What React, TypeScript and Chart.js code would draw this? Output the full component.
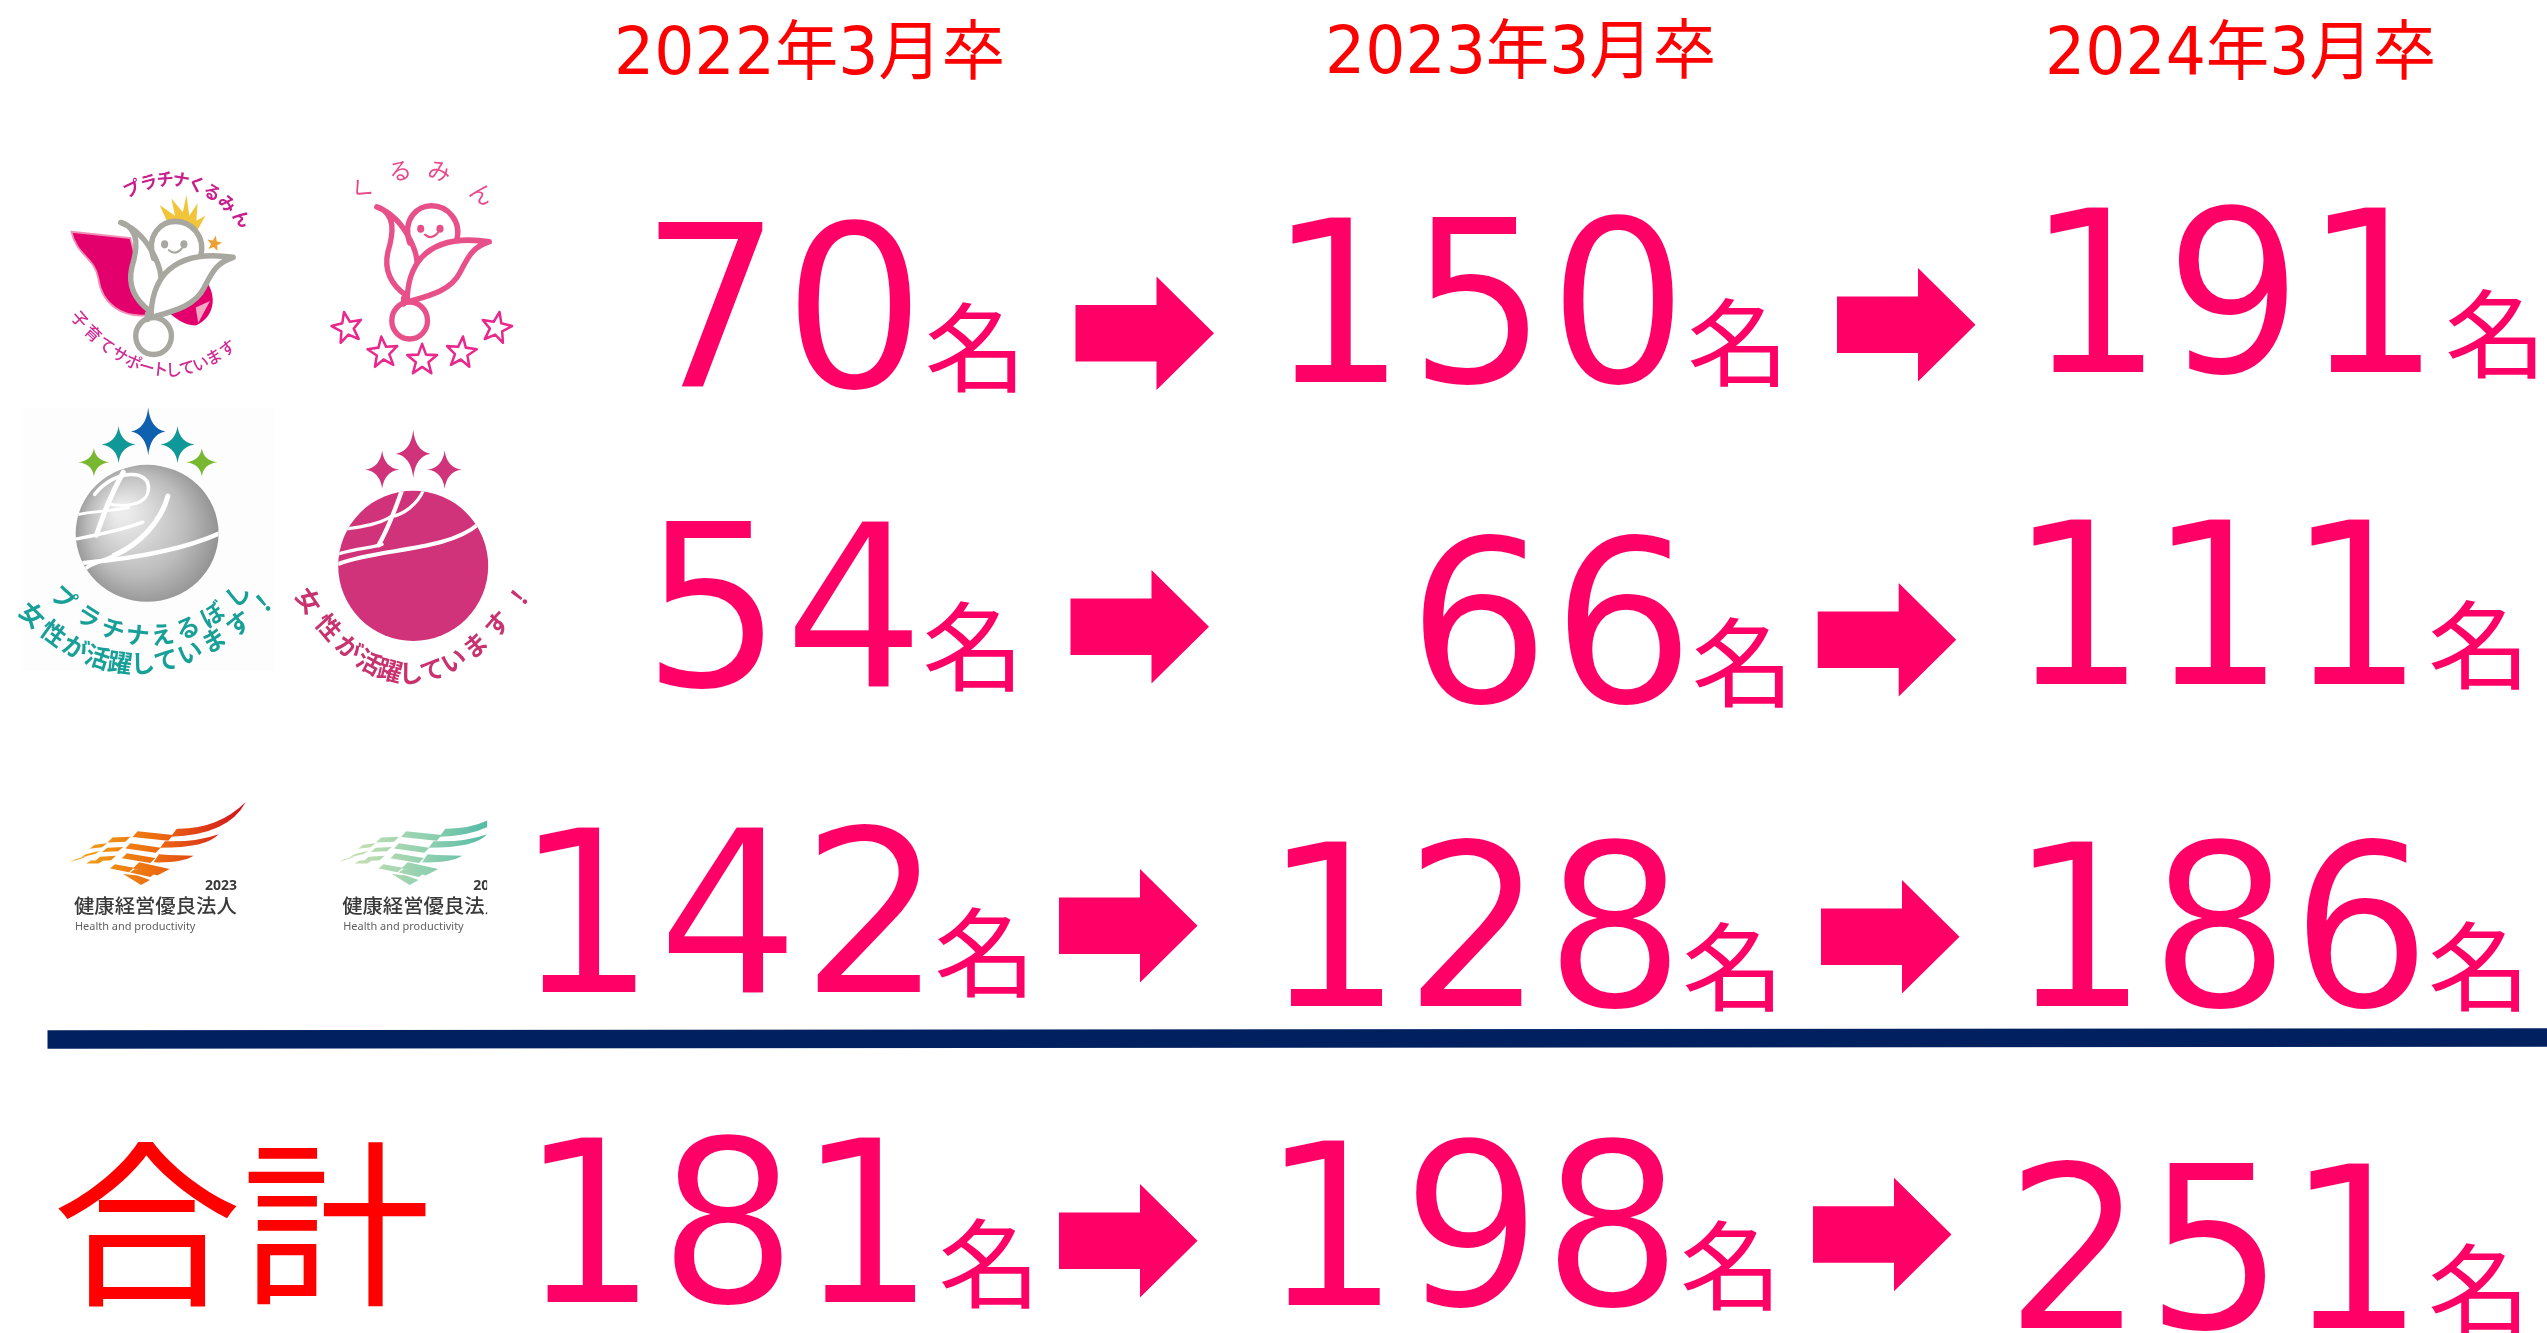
import React, { useEffect, useRef } from "react";
import { Chart, registerables } from "chart.js";

Chart.register(...registerables);

// ---------- values ----------
const years = ["2022年3月卒", "2023年3月卒", "2024年3月卒"];
const kurumin = [70, 150, 191];
const eruboshi = [54, 66, 111];
const kenko = [142, 128, 186];
const total = [181, 198, 251];
const rowNames = ["くるみん", "えるぼし", "健康経営優良法人", "合計"];
const unit = "名";
const totalLabel = "合計";

// ---------- layout, in the units of the two hidden axes (one unit = one reference pixel) ----------
const W = 2547;
const H = 1333;
// [number left, number right, baseline, unit left, unit right, unit top, unit bottom]
const cellLayout = [
  [[657.7, 910.2, 386.6, 928, 1015.9, 301.9, 392.5], [1292.4, 1672.9, 381.8, 1690.4, 1778.6, 297.4, 387], [2050.4, 2421.6, 372.2, 2448.1, 2535.9, 288.1, 378]],
  [[658.8, 912.6, 685.9, 925.6, 1013.5, 600.8, 691.4], [1422.2, 1680.5, 702, 1694.9, 1783.4, 617.3, 707.6], [2033.5, 2405.4, 683.5, 2431.2, 2519.7, 599, 688.9]],
  [[539.6, 920.5, 991.7, 937.4, 1025.2, 907, 997.5], [1287.9, 1669.8, 1005.5, 1685.6, 1773.8, 921.1, 1011], [2033.5, 2417.1, 1005.5, 2431.2, 2519.7, 921.1, 1011.3]],
  [[544.4, 916, 1302.3, 941.8, 1030, 1217.6, 1307.8], [1285.5, 1667.4, 1305, 1683.2, 1771.4, 1220, 1310.6], [2020.8, 2405.4, 1327.8, 2431.2, 2519.7, 1243.4, 1333.4]],
];
// [left, top] of each arrow
const arrowLayout = [
  [[1075.5, 276.5], [1837, 268]],
  [[1070.5, 570], [1817.7, 583]],
  [[1059, 869], [1821, 880]],
  [[1059, 1184], [1813, 1177.7]],
];
const headerLayout = [
  [618, 1002, 74],
  [1329, 1713, 73],
  [2049, 2433, 74],
];
const separator = [
  { x: 47.5, y: 1039.5 },
  { x: 2547, y: 1037.5 },
];
const PINK = "#ff0066";
const RED = "#ff0000";
const NAVY = "#002060";
const rows = [kurumin, eruboshi, kenko, total];
const ERODE = 2;

type Ctx = CanvasRenderingContext2D;
type Pt = [number, number];

function fitText(ctx: Ctx, text: string, font: string, color: string, l: number, r: number, baseline: number, top?: number, erode = 0) {
  ctx.save();
  ctx.font = font;
  ctx.fillStyle = color;
  ctx.textAlign = "left";
  ctx.textBaseline = "alphabetic";
  const m = ctx.measureText(text);
  const ink = m.actualBoundingBoxLeft + m.actualBoundingBoxRight;
  const sx = (r - l) / ink;
  let sy = 1;
  if (top !== undefined) sy = (baseline - top) / (m.actualBoundingBoxAscent + m.actualBoundingBoxDescent);
  const by = top !== undefined ? baseline - m.actualBoundingBoxDescent * sy : baseline;
  ctx.translate(l + m.actualBoundingBoxLeft * sx, by);
  ctx.scale(sx, sy);
  ctx.fillText(text, 0, 0);
  if (erode > 0) {
    ctx.strokeStyle = "#ffffff";
    ctx.lineJoin = "miter";
    ctx.lineWidth = erode;
    ctx.strokeText(text, 0, 0);
  }
  ctx.restore();
}

function pathText(ctx: Ctx, text: string, a: Pt, c: Pt, b: Pt, font: string, color: string) {
  const chars = Array.from(text);
  ctx.save();
  ctx.font = font;
  ctx.fillStyle = color;
  ctx.textAlign = "center";
  ctx.textBaseline = "middle";
  chars.forEach((ch, i) => {
    const t = (i + 0.5) / chars.length;
    const u = 1 - t;
    const x = u * u * a[0] + 2 * u * t * c[0] + t * t * b[0];
    const y = u * u * a[1] + 2 * u * t * c[1] + t * t * b[1];
    const dx = 2 * u * (c[0] - a[0]) + 2 * t * (b[0] - c[0]);
    const dy = 2 * u * (c[1] - a[1]) + 2 * t * (b[1] - c[1]);
    ctx.save();
    ctx.translate(x, y);
    ctx.rotate(Math.atan2(dy, dx));
    ctx.fillText(ch, 0, 0);
    ctx.restore();
  });
  ctx.restore();
}

function sparkle(ctx: Ctx, x: number, y: number, rx: number, ry: number, color: string) {
  const k = 0.12;
  ctx.fillStyle = color;
  ctx.beginPath();
  ctx.moveTo(x, y - ry);
  ctx.quadraticCurveTo(x + rx * k, y - ry * k, x + rx, y);
  ctx.quadraticCurveTo(x + rx * k, y + ry * k, x, y + ry);
  ctx.quadraticCurveTo(x - rx * k, y + ry * k, x - rx, y);
  ctx.quadraticCurveTo(x - rx * k, y - ry * k, x, y - ry);
  ctx.fill();
}

function star(ctx: Ctx, x: number, y: number, r: number, rot: number) {
  ctx.beginPath();
  for (let i = 0; i < 10; i++) {
    const rad = i % 2 ? r * 0.42 : r;
    const a = rot + (i * Math.PI) / 5 - Math.PI / 2;
    const px = x + rad * Math.cos(a);
    const py = y + rad * Math.sin(a);
    if (i) ctx.lineTo(px, py);
    else ctx.moveTo(px, py);
  }
  ctx.closePath();
}

function curve(ctx: Ctx, pts: number[], width: number, color: string) {
  ctx.strokeStyle = color;
  ctx.lineWidth = width;
  ctx.lineCap = "round";
  ctx.beginPath();
  ctx.moveTo(pts[0], pts[1]);
  ctx.bezierCurveTo(pts[2], pts[3], pts[4], pts[5], pts[6], pts[7]);
  ctx.stroke();
}

// tulip figure, drawn in the coordinates of the second logo
function tulip(ctx: Ctx, color: string, fillWhite: boolean, width: number) {
  ctx.lineJoin = "round";
  ctx.lineCap = "round";
  const left = new Path2D("M1055 208 C1112 225 1100 285 1086 330 C1072 390 1105 425 1138 448 L1165 400 C1175 350 1160 320 1150 300 C1130 260 1100 225 1055 208 Z");
  const head = new Path2D("M1147 305 C1125 240 1170 205 1208 205 C1252 205 1295 245 1278 302");
  const right = new Path2D("M1370 302 C1300 292 1225 298 1180 345 C1150 378 1140 420 1140 465 C1200 448 1262 435 1288 385 C1310 345 1320 318 1370 302 Z");
  if (fillWhite) {
    ctx.fillStyle = "#ffffff";
    ctx.fill(left);
    ctx.beginPath();
    ctx.arc(1210, 275, 66, 0, Math.PI * 2);
    ctx.fill();
    ctx.fill(right);
  }
  ctx.strokeStyle = color;
  ctx.lineWidth = width;
  ctx.stroke(left);
  ctx.stroke(head);
  ctx.fillStyle = "#ffffff";
  ctx.fill(right);
  ctx.stroke(right);
  ctx.beginPath();
  ctx.arc(1147, 515, 50, 0, Math.PI * 2);
  ctx.stroke();
  ctx.beginPath();
  ctx.moveTo(1130, 455);
  ctx.lineTo(1130, 470);
  ctx.stroke();
  ctx.fillStyle = fillWhite ? "#a8a8a0" : color;
  [1178, 1232].forEach((x) => {
    ctx.beginPath();
    ctx.ellipse(x, 267, 10, 11, 0, 0, Math.PI * 2);
    ctx.fill();
  });
  ctx.lineWidth = 6;
  ctx.beginPath();
  ctx.moveTo(1190, 283);
  ctx.quadraticCurveTo(1208, 298, 1226, 278);
  ctx.stroke();
}

function logoKurumin(ctx: Ctx) {
  ctx.save();
  ctx.translate(0, 130);
  ctx.scale(1 / 2.8, 1 / 2.703);
  const cjk = "'Noto Sans CJK JP'";

  // platinum logo
  pathText(ctx, "プラチナくるみん", [345, 170], [538, 62], [698, 262], `bold 48px ${cjk}`, "#c81e8c");
  pathText(ctx, "子育てサポートしています", [205, 490], [430, 755], [655, 575], `500 45px ${cjk}`, "#d02a94");
  ctx.fillStyle = "#e4006c";
  ctx.strokeStyle = "#f090b8";
  ctx.lineWidth = 5;
  ctx.beginPath();
  ctx.moveTo(200, 275);
  ctx.lineTo(365, 292);
  ctx.lineTo(420, 500);
  ctx.bezierCurveTo(340, 510, 285, 470, 275, 400);
  ctx.bezierCurveTo(265, 345, 215, 340, 200, 275);
  ctx.closePath();
  ctx.fill();
  ctx.stroke();
  ctx.beginPath();
  ctx.moveTo(470, 490);
  ctx.lineTo(575, 405);
  ctx.bezierCurveTo(610, 450, 600, 505, 550, 528);
  ctx.bezierCurveTo(520, 530, 490, 510, 470, 490);
  ctx.closePath();
  ctx.fill();
  ctx.fillStyle = "#f4a8c4";
  ctx.beginPath();
  ctx.moveTo(548, 480);
  ctx.lineTo(588, 462);
  ctx.lineTo(555, 522);
  ctx.closePath();
  ctx.fill();
  // crown
  ctx.fillStyle = "#f2c43a";
  ctx.beginPath();
  ctx.moveTo(447, 203);
  ctx.lineTo(490, 232);
  ctx.lineTo(480, 185);
  ctx.lineTo(512, 222);
  ctx.lineTo(522, 175);
  ctx.lineTo(530, 232);
  ctx.lineTo(553, 198);
  ctx.lineTo(550, 245);
  ctx.lineTo(575, 232);
  ctx.lineTo(552, 272);
  ctx.bezierCurveTo(525, 250, 495, 245, 468, 248);
  ctx.closePath();
  ctx.fill();
  // wand star
  ctx.fillStyle = "#f0a030";
  star(ctx, 600, 307, 22, 0.2);
  ctx.fill();
  ctx.save();
  ctx.translate(-717, 42);
  tulip(ctx, "#a8a8a0", true, 15);
  ctx.restore();

  // plain logo
  const hira = `64px ${cjk}`;
  const kana: [string, number, number, number][] = [
    ["く", 1012, 160, -0.8],
    ["る", 1120, 110, -0.2],
    ["み", 1230, 110, 0.15],
    ["ん", 1350, 172, 0.6],
  ];
  ctx.fillStyle = "#e84a8c";
  ctx.textAlign = "center";
  ctx.textBaseline = "middle";
  ctx.font = hira;
  kana.forEach(([c, x, y, a]) => {
    ctx.save();
    ctx.translate(x, y);
    ctx.rotate(a);
    ctx.fillText(c, 0, 0);
    ctx.restore();
  });
  tulip(ctx, "#e8508a", false, 15);
  const stars: [number, number, number][] = [
    [972, 535, -0.2],
    [1072, 602, -0.1],
    [1182, 622, 0],
    [1292, 602, 0.1],
    [1390, 535, 0.2],
  ];
  ctx.strokeStyle = "#e8288c";
  ctx.lineWidth = 7;
  stars.forEach(([x, y, a]) => {
    star(ctx, x, y, 44, a);
    ctx.stroke();
  });
  ctx.restore();
}

function logoEruboshi(ctx: Ctx) {
  ctx.save();
  ctx.translate(0, 130);
  ctx.scale(1 / 2.8, 1 / 2.703);
  const cjk = "'Noto Sans CJK JP'";

  // platinum logo
  ctx.fillStyle = "#fdfdfd";
  ctx.fillRect(65, 750, 705, 712);
  sparkle(ctx, 415, 815, 48, 65, "#1060b0");
  sparkle(ctx, 332, 850, 48, 50, "#109898");
  sparkle(ctx, 497, 850, 48, 50, "#109898");
  sparkle(ctx, 263, 898, 44, 38, "#78b830");
  sparkle(ctx, 565, 898, 44, 38, "#78b830");
  const g = ctx.createRadialGradient(340, 1030, 20, 412, 1090, 215);
  g.addColorStop(0, "#ececec");
  g.addColorStop(0.6, "#bcbcbc");
  g.addColorStop(1, "#8c8c8c");
  ctx.fillStyle = g;
  ctx.beginPath();
  ctx.ellipse(412, 1090, 200, 185, 0, 0, Math.PI * 2);
  ctx.fill();
  ctx.save();
  ctx.beginPath();
  ctx.ellipse(412, 1090, 200, 185, 0, 0, Math.PI * 2);
  ctx.clip();
  curve(ctx, [235, 1170, 350, 1160, 500, 1140, 615, 1090], 12, "#ffffff");
  curve(ctx, [215, 1105, 270, 1095, 330, 1085, 400, 1060], 9, "#ffffff");
  curve(ctx, [215, 1040, 260, 1030, 320, 1030, 360, 1020], 8, "#ffffff");
  curve(ctx, [345, 925, 310, 985, 290, 1040, 270, 1095], 14, "#ffffff");
  curve(ctx, [265, 985, 320, 915, 425, 915, 415, 975], 10, "#ffffff");
  curve(ctx, [415, 975, 410, 1015, 345, 1020, 300, 1010], 8, "#ffffff");
  curve(ctx, [470, 990, 450, 1060, 390, 1120, 320, 1150], 14, "#ffffff");
  curve(ctx, [320, 1150, 290, 1165, 260, 1170, 240, 1185], 10, "#ffffff");
  ctx.restore();
  pathText(ctx, "プラチナえるぼし", [145, 1232], [418, 1505], [700, 1222], `bold 66px ${cjk}`, "#18a098");
  pathText(ctx, "女性が活躍しています!", [62, 1280], [383, 1620], [772, 1245], `bold 68px ${cjk}`, "#18a098");

  // plain logo
  const rose = "#d0337a";
  sparkle(ctx, 1157, 875, 48, 65, rose);
  sparkle(ctx, 1070, 918, 48, 52, rose);
  sparkle(ctx, 1245, 918, 48, 52, rose);
  ctx.fillStyle = rose;
  ctx.beginPath();
  ctx.ellipse(1157, 1178, 210, 203, 0, 0, Math.PI * 2);
  ctx.fill();
  ctx.save();
  ctx.beginPath();
  ctx.ellipse(1157, 1178, 210, 203, 0, 0, Math.PI * 2);
  ctx.clip();
  curve(ctx, [950, 1172, 1060, 1130, 1250, 1140, 1340, 1065], 11, "#ffffff");
  curve(ctx, [950, 1145, 1000, 1130, 1040, 1130, 1070, 1120], 9, "#ffffff");
  curve(ctx, [970, 1078, 1020, 1072, 1060, 1065, 1095, 1045], 9, "#ffffff");
  curve(ctx, [1125, 975, 1105, 1030, 1085, 1080, 1060, 1122], 12, "#ffffff");
  curve(ctx, [1185, 975, 1170, 1010, 1130, 1040, 1095, 1045], 9, "#ffffff");
  ctx.restore();
  pathText(ctx, "女性が活躍しています!", [838, 1230], [1140, 1710], [1485, 1220], `bold 68px ${cjk}`, "#c8336f");
  ctx.restore();
}

function checker(ctx: Ctx, from: string, mid: string, to: string) {
  const g = ctx.createLinearGradient(200, 0, 690, 0);
  g.addColorStop(0, from);
  g.addColorStop(0.5, mid);
  g.addColorStop(1, to);
  ctx.fillStyle = g;
  const bars: number[][] = [
    [385, 195, 485, 205, 16],
    [315, 212, 365, 210, 14],
    [265, 232, 300, 228, 11],
    [365, 228, 450, 240, 14],
    [300, 240, 345, 238, 12],
    [240, 258, 280, 248, 9],
    [355, 255, 435, 268, 14],
    [280, 265, 325, 262, 12],
    [210, 272, 245, 262, 7],
    [322, 285, 375, 295, 12],
    [255, 275, 290, 275, 8],
    [378, 298, 435, 310, 10],
  ];
  bars.forEach(([x0, y0, x1, y1, t]) => {
    ctx.beginPath();
    ctx.moveTo(x0, y0);
    ctx.lineTo(x1, y1);
    ctx.lineTo(x1 - 14, y1 + t);
    ctx.lineTo(x0 - 14, y0 + t);
    ctx.closePath();
    ctx.fill();
  });
  const shapes: string[] = [
    "M495 188 Q610 190 688 115 Q640 205 478 210 Z",
    "M462 222 Q550 225 612 203 Q580 240 448 240 Z",
    "M445 258 Q500 262 542 262 Q510 282 430 280 Z",
    "M390 280 L475 298 L440 316 L372 296 Z",
    "M345 312 L385 316 L420 328 L395 342 Z",
  ];
  shapes.forEach((d) => ctx.fill(new Path2D(d)));
}

function logoKenko(ctx: Ctx) {
  ctx.save();
  ctx.translate(0, 760);
  ctx.scale(1 / 2.8, 1 / 2.736);
  const jp = "'Noto Sans CJK JP'";
  const title = "健康経営優良法人";
  const en = "Health and productivity";
  const dark = "#3a3a3a";
  const grey = "#606060";
  const text = (dx: number) => {
    fitText(ctx, "2023", `bold 40px 'Noto Sans'`, dark, 575 + dx, 663 + dx, 356);
    fitText(ctx, title, `500 54px ${jp}`, dark, 207 + dx, 662 + dx, 418);
    fitText(ctx, en, `30px 'Noto Sans'`, grey, 212 + dx, 548 + dx, 465);
  };

  checker(ctx, "#f0a818", "#ec6a10", "#d01020");
  text(0);

  ctx.save();
  ctx.beginPath();
  ctx.rect(900, 0, 464, 560);
  ctx.clip();
  ctx.translate(752, 0);
  checker(ctx, "#cfe2b0", "#90d0b0", "#38b0a0");
  ctx.translate(-752, 0);
  text(751);
  ctx.restore();
  ctx.restore();
}

function arrow(ctx: Ctx, x: (v: number) => number, y: (v: number) => number, left: number, top: number) {
  ctx.fillStyle = PINK;
  ctx.beginPath();
  ctx.moveTo(x(left), y(top + 28.5));
  ctx.lineTo(x(left + 81), y(top + 28.5));
  ctx.lineTo(x(left + 81), y(top));
  ctx.lineTo(x(left + 138.5), y(top + 56.7));
  ctx.lineTo(x(left + 81), y(top + 113.5));
  ctx.lineTo(x(left + 81), y(top + 85));
  ctx.lineTo(x(left), y(top + 85));
  ctx.closePath();
  ctx.fill();
}

const infographic = {
  id: "infographic",
  beforeDraw(chart: any) {
    const { ctx, width, height } = chart;
    ctx.save();
    ctx.fillStyle = "#ffffff";
    ctx.fillRect(0, 0, width, height);
    ctx.restore();
  },
  afterDatasetsDraw(chart: any) {
    const { ctx, scales } = chart;
    const X = (v: number) => scales.x.getPixelForValue(v);
    const Y = (v: number) => scales.y.getPixelForValue(v);
    const numFont = "228px 'DejaVu Sans'";
    const unitFont = "95px 'Noto Sans CJK JP'";
    const headFont = "65px 'DejaVu Sans', 'Noto Sans CJK JP'";

    logoKurumin(ctx);
    logoEruboshi(ctx);
    logoKenko(ctx);

    years.forEach((t, i) => {
      const [l, r, b] = headerLayout[i];
      fitText(ctx, t, headFont, RED, X(l), X(r), Y(b));
    });

    chart.data.datasets.forEach((ds: any) => {
      if (!ds.cells) return;
      ds.data.forEach((p: any, i: number) => {
        const c = ds.cells[i];
        const e = ERODE / 2;
        fitText(ctx, String(p.v), numFont, PINK, X(c[0] - e), X(c[1] + e), Y(p.y + e), undefined, ERODE);
        fitText(ctx, unit, unitFont, PINK, X(c[3]), X(c[4]), Y(c[6]), Y(c[5]));
      });
    });

    arrowLayout.forEach((row) => row.forEach(([l, t]) => arrow(ctx, X, Y, l, t)));

    fitText(ctx, totalLabel, "190px 'Noto Sans CJK JP'", RED, X(58), X(426), Y(1308), Y(1142));
  },
};

export default function App() {
  const ref = useRef<HTMLCanvasElement>(null);
  useEffect(() => {
    if (!ref.current) return;
    const chart = new Chart(ref.current, {
      type: "scatter",
      data: {
        datasets: [
          ...rows.map((values, r) => ({
            label: rowNames[r],
            cells: cellLayout[r],
            data: values.map((v, i) => ({ x: cellLayout[r][i][0], y: cellLayout[r][i][2], v })),
            pointRadius: 0,
            showLine: false,
          })),
          {
            label: "separator",
            data: separator,
            showLine: true,
            borderColor: NAVY,
            borderWidth: 18.7,
            pointRadius: 0,
            borderCapStyle: "butt",
          },
        ] as any,
      },
      options: {
        animation: false,
        responsive: false,
        devicePixelRatio: 1,
        layout: { padding: 0 },
        plugins: { legend: { display: false }, tooltip: { enabled: false }, title: { display: false } },
        scales: {
          x: { type: "linear", min: 0, max: W, display: false },
          y: { type: "linear", min: 0, max: H, reverse: true, display: false },
        },
      },
      plugins: [infographic],
    });
    return () => chart.destroy();
  }, []);
  return (
    <canvas
      ref={ref}
      width={W}
      height={H}
      style={{ position: "absolute", left: 0, top: 0, display: "block", width: W, height: H }}
    />
  );
}
